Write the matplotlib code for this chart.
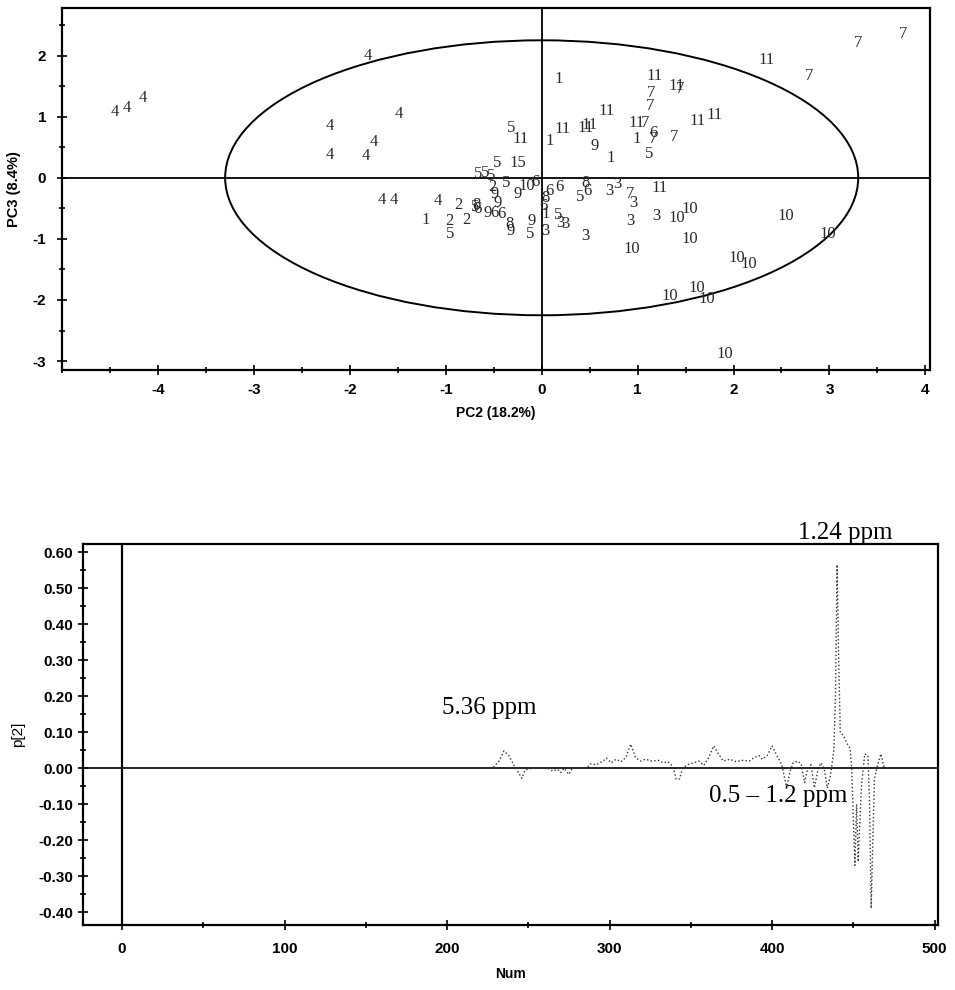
import matplotlib
matplotlib.use("Agg")
import matplotlib.pyplot as plt
import numpy as np
from matplotlib.patches import Ellipse
from matplotlib.ticker import MultipleLocator, FormatStrFormatter

plt.rcParams['axes.unicode_minus'] = False
plt.rcParams['font.family'] = ['Liberation Sans', 'DejaVu Sans']

########################   score plot data (PC2 / PC3)   ######################
groups = ['4', '4', '4', '4', '4', '4', '4', '4', '4', '4', '4', '4',
          '1', '2', '2', '2', '5', '5', '6', '8', '9', '6', '6',
          '5', '5', '5', '5', '15', '5', '2', '9', '9', '9', '10', '6',
          '6', '6', '8', '6', '8', '9', '9', '5', '1', '3', '5', '3', '3',
          '3', '5', '6', '8', '3', '3', '7', '3', '3', '3', '11',
          '10', '10', '10', '10', '10', '10', '10', '10', '10', '10', '10', '10',
          '7', '7', '7', '11', '1', '11', '11', '7', '7', '7', '11', '11',
          '11', '11', '1', '9', '1', '11', '7', '6', '1', '7', '5', '7',
          '11', '11', '5', '11']
pc2 = [-4.45, -4.32, -4.16, -1.81, -1.49, -2.21, -2.21, -1.83, -1.75, -1.67, -1.54, -1.08,
       -1.21, -0.87, -0.96, -0.79, -0.95, -0.69, -0.67, -0.68, -0.56, -0.49, -0.42,
       -0.66, -0.59, -0.53, -0.46, -0.25, -0.37, -0.51, -0.49, -0.46, -0.25, -0.16, -0.06,
       0.08, 0.19, 0.04, 0.02, -0.33, -0.32, -0.11, -0.12, 0.04, 0.04, 0.17, 0.19, 0.25,
       0.45, 0.40, 0.48, 0.46, 0.70, 0.79, 0.92, 0.96, 0.92, 1.20, 1.23,
       1.41, 1.54, 0.94, 1.54, 2.55, 2.98, 2.03, 2.16, 1.34, 1.62, 1.72, 1.91,
       3.77, 3.30, 2.79, 2.34, 0.18, 1.18, 1.41, 1.44, 1.14, 1.13, 0.68, 0.22,
       0.46, 0.50, 0.08, 0.55, 0.72, 0.99, 1.08, 1.17, 0.99, 1.16, 1.12, 1.38,
       1.62, 1.80, -0.32, -0.22]
pc3 = [1.07, 1.15, 1.31, 2.00, 1.05, 0.85, 0.38, 0.36, 0.59, -0.36, -0.36, -0.38,
       -0.69, -0.44, -0.70, -0.69, -0.92, -0.48, -0.51, -0.44, -0.57, -0.57, -0.59,
       0.07, 0.08, 0.03, 0.25, 0.25, -0.08, -0.15, -0.26, -0.41, -0.26, -0.13, -0.07,
       -0.21, -0.15, -0.33, -0.46, -0.75, -0.87, -0.70, -0.92, -0.59, -0.87, -0.61, -0.74, -0.75,
       -0.95, -0.31, -0.21, -0.08, -0.21, -0.10, -0.26, -0.41, -0.70, -0.62, -0.16,
       -0.66, -0.51, -1.16, -1.00, -0.62, -0.92, -1.31, -1.41, -1.93, -1.80, -1.98, -2.89,
       2.36, 2.20, 1.67, 1.92, 1.62, 1.67, 1.51, 1.46, 1.38, 1.18, 1.10, 0.80,
       0.82, 0.87, 0.61, 0.52, 0.33, 0.89, 0.90, 0.74, 0.64, 0.64, 0.39, 0.66,
       0.93, 1.02, 0.82, 0.64]
ellipse_axes = [3.3, 2.25]   # Hotelling T2 semi axes
pc_ticks = [-4, -3, -2, -1, 0, 1, 2, 3, 4]

########################   loading plot data   ################################
num = [0, 200, 228, 232, 235, 238, 241, 243, 246, 248, 252, 262, 265, 268, 270, 272,
       275, 277, 286, 288, 292, 296, 298, 301, 304, 307, 310, 313, 316, 319, 322,
       326, 330, 333, 336, 339, 341, 343, 345, 348, 352, 355, 358, 361, 364, 367,
       370, 374, 378, 382, 386, 389, 392, 394, 397, 400, 403, 406, 409, 411, 413,
       416, 418, 420, 422, 424, 426, 428, 430, 432, 434, 436, 438, 439, 440, 441,
       442, 444, 446, 448, 449, 451, 452, 453, 455, 457, 459, 460, 461, 462, 463,
       465, 467, 469]
p2 = [0.0, 0.0, 0.0, 0.02, 0.048, 0.035, 0.01, -0.005, -0.028, -0.005, 0.0, 0.0,
      -0.008, -0.003, -0.012, 0.0, -0.017, 0.0, 0.0, 0.012, 0.01, 0.02, 0.028,
      0.015, 0.025, 0.018, 0.03, 0.067, 0.03, 0.02, 0.025, 0.02, 0.022, 0.015,
      0.018, 0.005, -0.03, -0.03, 0.0, 0.01, 0.015, 0.02, 0.008, 0.03, 0.062,
      0.04, 0.02, 0.025, 0.018, 0.022, 0.02, 0.03, 0.035, 0.025, 0.035, 0.062,
      0.035, 0.01, -0.055, -0.01, 0.015, 0.02, 0.01, -0.04, 0.0, 0.01, -0.055,
      -0.01, 0.015, 0.0, -0.055, -0.02, 0.05, 0.2, 0.566, 0.3, 0.10, 0.09, 0.07,
      0.055, 0.0, -0.27, -0.10, -0.26, -0.05, 0.04, 0.035, -0.1, -0.39, -0.2,
      -0.03, 0.01, 0.04, 0.0]

fig = plt.figure(figsize=(9.55, 9.9), dpi=100)

##############   score plot
ax1 = fig.add_axes([0.065, 0.626, 0.909, 0.366])
ax1.set_xlim(-5.0, 4.05)
ax1.set_ylim(-3.15, 2.78)
ax1.axhline(0, color='black', lw=1.3)
ax1.axvline(0, color='black', lw=1.3)
ax1.add_patch(Ellipse((0, 0), 2 * ellipse_axes[0], 2 * ellipse_axes[1],
                      fill=False, ec='black', lw=1.4))
for g, x, y in zip(groups, pc2, pc3):
    ax1.text(x, y, g, ha='center', va='center', fontsize=12,
             family='Liberation Serif', color='#2a2a2a')
ax1.set_xticks(pc_ticks)
ax1.xaxis.set_minor_locator(MultipleLocator(0.5))
ax1.yaxis.set_major_locator(MultipleLocator(1))
ax1.yaxis.set_minor_locator(MultipleLocator(0.5))
ax1.tick_params(which='both', direction='inout', top=False, right=False,
                labelsize=11, width=1.2)
ax1.tick_params(which='major', length=7)
ax1.tick_params(axis='x', which='major', pad=6)
ax1.tick_params(axis='y', which='major', pad=8)
ax1.tick_params(which='minor', length=5)
for lab in ax1.get_xticklabels() + ax1.get_yticklabels():
    lab.set_fontweight('bold')
for s in ax1.spines.values():
    s.set_linewidth(1.6)
ax1.set_xlabel('PC2 (18.2%)', fontsize=10, fontweight='bold', labelpad=6)
ax1.set_ylabel('PC3 (8.4%)', fontsize=10.5, fontweight='bold', labelpad=8)

##############   loading plot
ax2 = fig.add_axes([0.087, 0.066, 0.895, 0.385])
ax2.set_xlim(-24, 502)
ax2.set_ylim(-0.435, 0.625)
ax2.axhline(0, color='black', lw=1.2)
ax2.axvline(0, color='black', lw=1.6)
ax2.plot(num, p2, color='#333333', lw=1.0, ls=':')
ax2.xaxis.set_major_locator(MultipleLocator(100))
ax2.xaxis.set_minor_locator(MultipleLocator(50))
ax2.yaxis.set_major_locator(MultipleLocator(0.1))
ax2.yaxis.set_minor_locator(MultipleLocator(0.05))
ax2.yaxis.set_major_formatter(FormatStrFormatter('%.2f'))
ax2.tick_params(which='both', direction='inout', top=False, right=False,
                labelsize=11, width=1.2)
ax2.tick_params(which='major', length=7)
ax2.tick_params(axis='x', which='major', pad=9)
ax2.tick_params(which='minor', length=5)
for lab in ax2.get_xticklabels() + ax2.get_yticklabels():
    lab.set_fontweight('bold')
for s in ax2.spines.values():
    s.set_linewidth(1.6)
ax2.set_xlabel('Num', fontsize=10, fontweight='bold', labelpad=8)
ax2.set_ylabel('p[2]', fontsize=11, labelpad=10)

ax2.text(445, 0.655, '1.24 ppm', ha='center', va='center', fontsize=18,
         family='Liberation Serif', clip_on=False)
ax2.text(226, 0.168, '5.36 ppm', ha='center', va='center', fontsize=18,
         family='Liberation Serif')
ax2.text(404, -0.078, '0.5 \u2013 1.2 ppm', ha='center', va='center', fontsize=18,
         family='Liberation Serif')

plt.savefig('out.png', dpi=100)
